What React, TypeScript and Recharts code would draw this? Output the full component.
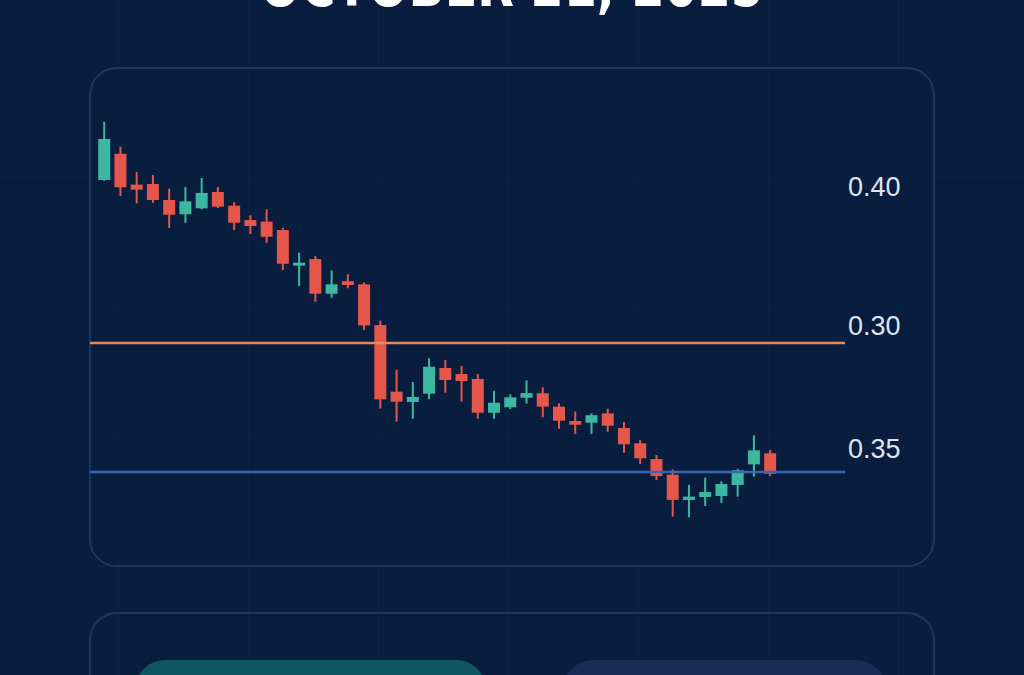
import React from 'react';
import { ComposedChart, Bar, XAxis, YAxis, ReferenceLine } from 'recharts';

// 42 sessions, values
const sessions = [
  '1', '2', '3', '4', '5', '6', '7', '8', '9', '10', '11', '12', '13', '14',
  '15', '16', '17', '18', '19', '20', '21', '22', '23', '24', '25', '26', '27', '28',
  '29', '30', '31', '32', '33', '34', '35', '36', '37', '38', '39', '40', '41', '42',
];
const opens = [
  0.4045, 0.4213, 0.4015, 0.4019, 0.3917, 0.3825, 0.3863, 0.3968, 0.3880, 0.3788, 0.3778, 0.3724, 0.3496, 0.3538,
  0.3316, 0.3396, 0.3376, 0.3115, 0.2688, 0.2622, 0.2675, 0.2840, 0.2801, 0.2769, 0.2553, 0.2588, 0.2649, 0.2678,
  0.2592, 0.2500, 0.2489, 0.2549, 0.2455, 0.2357, 0.2256, 0.2156, 0.1994, 0.2013, 0.2019, 0.2090, 0.2222, 0.2293,
];
const closes = [
  0.4308, 0.3998, 0.3983, 0.3917, 0.3822, 0.3908, 0.3962, 0.3874, 0.3771, 0.3750, 0.3681, 0.3508, 0.3515, 0.3316,
  0.3376, 0.3372, 0.3113, 0.2639, 0.2624, 0.2654, 0.2848, 0.2763, 0.2756, 0.2553, 0.2617, 0.2652, 0.2679, 0.2592,
  0.2502, 0.2476, 0.2537, 0.2470, 0.2351, 0.2261, 0.2147, 0.1994, 0.2015, 0.2045, 0.2096, 0.2184, 0.2312, 0.2162,
];
const highs = [
  0.4419, 0.4258, 0.4096, 0.4077, 0.3989, 0.4000, 0.4058, 0.4000, 0.3902, 0.3819, 0.3857, 0.3739, 0.3579, 0.3558,
  0.3466, 0.3440, 0.3389, 0.3143, 0.2829, 0.2750, 0.2902, 0.2891, 0.2853, 0.2801, 0.2694, 0.2671, 0.2761, 0.2716,
  0.2613, 0.2560, 0.2549, 0.2579, 0.2494, 0.2378, 0.2282, 0.2190, 0.2090, 0.2137, 0.2113, 0.2192, 0.2408, 0.2314,
];
const lows = [
  0.4040, 0.3942, 0.3896, 0.3899, 0.3737, 0.3771, 0.3857, 0.3865, 0.3724, 0.3699, 0.3643, 0.3468, 0.3365, 0.3265,
  0.3290, 0.3351, 0.3083, 0.2579, 0.2496, 0.2515, 0.2639, 0.2681, 0.2624, 0.2515, 0.2515, 0.2577, 0.2611, 0.2524,
  0.2451, 0.2417, 0.2417, 0.2431, 0.2297, 0.2224, 0.2122, 0.1887, 0.1883, 0.1955, 0.1974, 0.2015, 0.2143, 0.2147,
];

// horizontal levels and the price labels at the right
const levelValues = [0.3, 0.2173];
const levelColors = ['#e38b5f', '#3a65b2'];
const labelTexts = ['0.40', '0.30', '0.35'];
const labelValues = [0.4, 0.3109, 0.2321];

const GREEN = '#3db8a0';
const RED = '#e4574a';

const data = sessions.map((s, i) => ({
  session: s,
  open: opens[i],
  close: closes[i],
  high: highs[i],
  low: lows[i],
}));

const Candle = (props: any) => {
  const { x, y, width, height, payload } = props;
  const { open, close, high, low } = payload;
  const color = close >= open ? GREEN : RED;
  const k = height / (high - low);
  const top = y + (high - Math.max(open, close)) * k;
  const bottom = y + (high - Math.min(open, close)) * k;
  const cx = x + width / 2;
  return (
    <g>
      <line x1={cx} x2={cx} y1={y} y2={y + height} stroke={color} strokeWidth={2} />
      <rect x={x} y={top} width={width} height={Math.max(bottom - top, 2.5)} fill={color} />
    </g>
  );
};

const PriceLabel = ({ viewBox, text }: any) => (
  <text
    x={viewBox.x + viewBox.width + 3}
    y={viewBox.y}
    dominantBaseline="central"
    fill="#dfe4ec"
    fontSize={27}
    fontFamily="Liberation Sans, Arial, sans-serif"
  >
    {text}
  </text>
);

export default function App() {
  return (
    <div
      style={{
        position: 'fixed',
        left: 0,
        top: 0,
        width: 1024,
        height: 675,
        overflow: 'hidden',
        background: '#091d3e',
        backgroundImage:
          'linear-gradient(90deg, rgba(255,255,255,0.022) 1px, transparent 1px), linear-gradient(0deg, rgba(255,255,255,0.015) 1px, transparent 1px)',
        backgroundSize: '130px 130px',
        backgroundPosition: '118px 47px',
      }}
    >
      <svg width={1024} height={30} style={{ position: 'absolute', left: 0, top: 0 }}>
        <text
          x={512}
          y={6}
          textAnchor="middle"
          fill="#ffffff"
          fontSize={62}
          fontWeight={700}
          fontFamily="DejaVu Sans, sans-serif"
          textLength={504}
          lengthAdjust="spacingAndGlyphs"
        >
          OCTOBER 21, 2025
        </text>
      </svg>

      <div
        style={{
          position: 'absolute',
          left: 89,
          top: 67,
          width: 842,
          height: 496,
          borderRadius: 28,
          border: '2px solid #1f375c',
          background: 'rgba(12,33,66,0.35)',
        }}
      />
      <div
        style={{
          position: 'absolute',
          left: 89,
          top: 612,
          width: 842,
          height: 140,
          borderRadius: 28,
          border: '2px solid #1f375c',
        }}
      />
      <div
        style={{
          position: 'absolute',
          left: 135,
          top: 660,
          width: 351,
          height: 70,
          borderRadius: 30,
          background: '#0e5763',
        }}
      />
      <div
        style={{
          position: 'absolute',
          left: 563,
          top: 660,
          width: 323,
          height: 70,
          borderRadius: 30,
          background: '#172d56',
        }}
      />

      <div style={{ position: 'absolute', left: 0, top: 0 }}>
        <ComposedChart
          width={1024}
          height={675}
          data={data}
          margin={{ top: 93.4, right: 179, bottom: 144.8, left: 90 }}
        >
          <XAxis dataKey="session" hide padding={{ left: 6.2, right: 66.6 }} />
          <YAxis hide domain={[0.18, 0.46]} allowDataOverflow />
          {levelValues.map((v, i) => (
            <ReferenceLine key={'l' + i} y={v} stroke={levelColors[i]} strokeWidth={2.5} ifOverflow="visible" />
          ))}
          {labelValues.map((v, i) => (
            <ReferenceLine
              key={'t' + i}
              y={v}
              stroke="none"
              ifOverflow="visible"
              label={(p: any) => <PriceLabel {...p} text={labelTexts[i]} />}
            />
          ))}
          <Bar
            dataKey={(d: any) => [d.low, d.high]}
            barSize={12}
            shape={Candle}
            isAnimationActive={false}
          />
        </ComposedChart>
      </div>
    </div>
  );
}
